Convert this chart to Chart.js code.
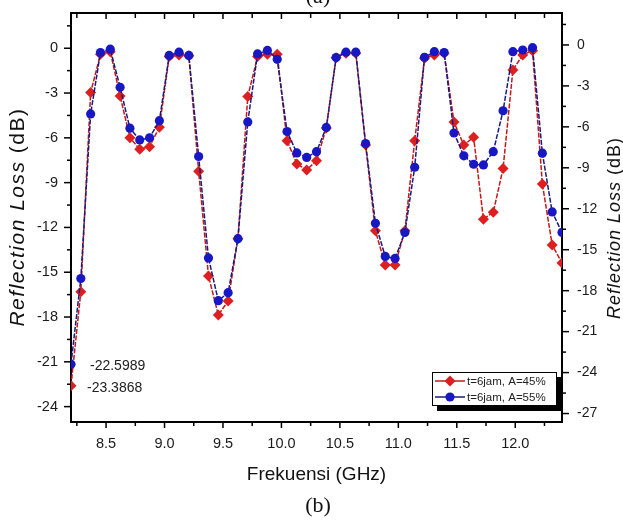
<!DOCTYPE html>
<html>
<head>
<meta charset="utf-8">
<title>Reflection Loss</title>
<script src="https://cdn.jsdelivr.net/npm/chart.js@4.4.0/dist/chart.umd.min.js"></script>
<style>
  html, body { margin: 0; padding: 0; background: #fff; }
  #wrap { position: relative; width: 623px; height: 520px; }
</style>
</head>
<body>
<div id="wrap"><canvas id="rlChart" width="623" height="520"></canvas></div>
<script>
// --- Data ---
const frequencies = [
    8.200, 8.284, 8.368, 8.452, 8.536, 8.620, 8.704, 8.788, 8.872, 8.956,
    9.040, 9.124, 9.208, 9.292, 9.376, 9.460, 9.544, 9.628, 9.712, 9.796,
    9.880, 9.964, 10.048, 10.132, 10.216, 10.300, 10.384, 10.468, 10.552, 10.636,
    10.720, 10.804, 10.888, 10.972, 11.056, 11.140, 11.224, 11.308, 11.392, 11.476,
    11.560, 11.644, 11.728, 11.812, 11.896, 11.980, 12.064, 12.148, 12.232, 12.316,
    12.400
];
// A=45% is read against the left axis
const rlA45 = [
    -22.5989, -16.30, -2.97, -0.40, -0.23, -3.19, -5.99, -6.76, -6.59, -5.29,
    -0.56, -0.45, -0.50, -8.24, -15.25, -17.86, -16.93, -12.75, -3.24, -0.56,
    -0.40, -0.40, -6.19, -7.75, -8.15, -7.53, -5.34, -0.63, -0.33, -0.33,
    -6.48, -12.22, -14.51, -14.51, -12.22, -6.19, -0.67, -0.45, -0.33, -4.94,
    -6.48, -5.96, -11.45, -10.98, -8.06, -1.45, -0.45, -0.16, -9.09, -13.17,
    -14.38
];
// A=55% is read against the right axis
const rlA55 = [
    -23.3868, -17.11, -5.05, -0.56, -0.31, -3.10, -6.10, -6.96, -6.80, -5.55,
    -0.77, -0.53, -0.77, -8.17, -15.60, -18.73, -18.15, -14.19, -5.64, -0.66,
    -0.40, -1.05, -6.34, -7.91, -8.24, -7.82, -6.04, -0.92, -0.53, -0.53,
    -7.22, -13.06, -15.49, -15.64, -13.74, -8.96, -0.90, -0.49, -0.56, -6.45,
    -8.12, -8.74, -8.79, -7.82, -4.82, -0.49, -0.37, -0.20, -7.93, -12.23,
    -13.74
];
const seriesNames = ['t=6jam, A=45%', 't=6jam, A=55%'];
const xTicks = [8.5, 9.0, 9.5, 10.0, 10.5, 11.0, 11.5, 12.0];
const leftTicks = [0, -3, -6, -9, -12, -15, -18, -21, -24];
const rightTicks = [0, -3, -6, -9, -12, -15, -18, -21, -24, -27];
const pointNotes = ['-22.5989', '-23.3868'];

document.addEventListener('DOMContentLoaded', () => {
    const ctx = document.getElementById('rlChart').getContext('2d');
    const SANS = "'Liberation Sans', Arial, sans-serif";
    const SERIF = "'Liberation Serif', 'Times New Roman', serif";

    const toPoints = (ys) => frequencies.map((f, i) => ({ x: f, y: ys[i] }));
    const fixedTicks = (values) => (scale) => {
        scale.ticks = values.map(v => ({ value: v }));
    };
    // keep the plot box where the reference has it: no extra label padding
    const fixSize = (prop, size) => (scale) => {
        scale[prop] = size;
        scale.paddingTop = 0;
        scale.paddingBottom = 0;
        scale.paddingLeft = 0;
        scale.paddingRight = 0;
    };

    // --- Extra drawing: minor ticks, titles, legend box, notes ---
    function drawAxisTicks(c, scale, step, majorLen, minorLen, side) {
        const area = scale.chart.chartArea;
        c.save();
        c.strokeStyle = '#000';
        c.lineWidth = 1.5;
        const first = Math.ceil(scale.min / step) * step;
        for (let v = first; v <= scale.max + 1e-9; v += step) {
            const k = Math.round(v / step);
            const len = k % 2 === 0 ? majorLen : minorLen;
            const p = scale.getPixelForValue(v);
            c.beginPath();
            if (side === 'bottom') { c.moveTo(p, area.bottom); c.lineTo(p, area.bottom + len); }
            if (side === 'top') { c.moveTo(p, area.top); c.lineTo(p, area.top + len); }
            if (side === 'left') { c.moveTo(area.left, p); c.lineTo(area.left - len, p); }
            if (side === 'right') { c.moveTo(area.right, p); c.lineTo(area.right + len, p); }
            c.stroke();
        }
        c.restore();
    }

    function drawVerticalTitle(c, x, y, size, spacing) {
        c.save();
        c.translate(x, y);
        c.rotate(-Math.PI / 2);
        c.fillStyle = '#111';
        c.textBaseline = 'middle';
        c.textAlign = 'left';
        c.letterSpacing = spacing + 'px';
        const part1 = 'Reflection Loss';
        const part2 = ' (dB)';
        c.font = `italic ${size}px ${SANS}`;
        const w1 = c.measureText(part1).width;
        c.font = `${size}px ${SANS}`;
        const w2 = c.measureText(part2).width;
        const start = -(w1 + w2) / 2;
        c.font = `italic ${size}px ${SANS}`;
        c.fillText(part1, start, 0);
        c.font = `${size}px ${SANS}`;
        c.fillText(part2, start + w1, 0);
        c.restore();
    }

    function drawMarker(c, style, x, y, r, color) {
        c.fillStyle = color;
        c.beginPath();
        if (style === 'rectRot') {
            c.moveTo(x, y - r); c.lineTo(x + r, y); c.lineTo(x, y + r); c.lineTo(x - r, y);
            c.closePath();
        } else {
            c.arc(x, y, r, 0, Math.PI * 2);
        }
        c.fill();
    }

    const decorPlugin = {
        id: 'decor',
        afterDraw(chart) {
            const c = chart.ctx;
            const area = chart.chartArea;
            const { x, xTop, y, y2 } = chart.scales;

            drawAxisTicks(c, x, 0.25, 6, 4, 'bottom');
            drawAxisTicks(c, xTop, 0.25, 6, 5, 'top');
            drawAxisTicks(c, y, 1.5, 7, 4, 'left');
            drawAxisTicks(c, y2, 1.5, 7, 4, 'right');

            // axis titles
            drawVerticalTitle(c, 18, 217, 21, 1.5);
            drawVerticalTitle(c, 615, 228, 18, 1);
            c.save();
            c.fillStyle = '#111';
            c.textAlign = 'center';
            c.textBaseline = 'middle';
            c.font = `19px ${SANS}`;
            c.fillText('Frekuensi (GHz)', 316.5, 475);

            // panel captions
            c.font = `22px ${SERIF}`;
            c.textBaseline = 'alphabetic';
            c.fillText('(a)', 318, 3);
            c.fillText('(b)', 318, 512);

            // notes beside the first points
            const redFirst = chart.getDatasetMeta(0).data[0];
            const blueFirst = chart.getDatasetMeta(1).data[0];
            c.textAlign = 'left';
            c.textBaseline = 'middle';
            c.font = `14px ${SANS}`;
            c.fillStyle = '#222';
            c.fillText(pointNotes[0], blueFirst.x + 19, blueFirst.y + 2);
            c.fillText(pointNotes[1], redFirst.x + 16, redFirst.y + 2);
            c.restore();

            // legend box with drop shadow
            const box = { left: area.right - 130, top: area.bottom - 50, w: 125, h: 34 };
            c.save();
            c.fillStyle = '#000';
            c.fillRect(box.left + 5, box.top + 5, box.w, box.h);
            c.fillStyle = '#fff';
            c.fillRect(box.left, box.top, box.w, box.h);
            c.strokeStyle = '#000';
            c.lineWidth = 1;
            c.strokeRect(box.left + 0.5, box.top + 0.5, box.w - 1, box.h - 1);
            chart.data.datasets.forEach((ds, i) => {
                const ly = box.top + 9 + i * 16;
                c.strokeStyle = ds.borderColor;
                c.lineWidth = 1.5;
                c.beginPath();
                c.moveTo(box.left + 3, ly);
                c.lineTo(box.left + 33, ly);
                c.stroke();
                drawMarker(c, ds.pointStyle, box.left + 18, ly, ds.pointRadius, ds.pointBackgroundColor);
                c.fillStyle = '#222';
                c.font = `11.5px ${SANS}`;
                c.textAlign = 'left';
                c.textBaseline = 'middle';
                c.fillText(ds.label, box.left + 35, ly + 1);
            });
            c.restore();
        }
    };

    // --- Chart ---
    const tickFont = (size) => ({ family: SANS, size: size });
    const noGrid = { display: false, drawTicks: false };
    const frame = { display: true, color: '#000', width: 2 };

    new Chart(ctx, {
        type: 'line',
        data: {
            datasets: [
                {
                    label: seriesNames[0],
                    data: toPoints(rlA45),
                    xAxisID: 'x',
                    yAxisID: 'y',
                    borderColor: '#c41818',
                    borderWidth: 1.5,
                    borderDash: [5, 1.5],
                    pointStyle: 'rectRot',
                    pointRadius: 5.5,
                    pointBackgroundColor: '#dc1f1f',
                    pointBorderColor: '#dc1f1f',
                    pointBorderWidth: 0,
                    tension: 0,
                    order: 2
                },
                {
                    label: seriesNames[1],
                    data: toPoints(rlA55),
                    xAxisID: 'x',
                    yAxisID: 'y2',
                    borderColor: '#1a1a7e',
                    borderWidth: 1.5,
                    borderDash: [5, 1.5],
                    pointStyle: 'circle',
                    pointRadius: 4.6,
                    pointBackgroundColor: '#1717c4',
                    pointBorderColor: '#1717c4',
                    pointBorderWidth: 0,
                    tension: 0,
                    order: 1
                }
            ]
        },
        options: {
            responsive: false,
            animation: false,
            devicePixelRatio: 1,
            layout: { padding: 0 },
            plugins: {
                legend: { display: false },
                tooltip: { enabled: false }
            },
            scales: {
                x: {
                    type: 'linear',
                    position: 'bottom',
                    min: 8.2,
                    max: 12.4,
                    afterBuildTicks: fixedTicks(xTicks),
                    afterFit: fixSize('height', 98),
                    grid: noGrid,
                    border: frame,
                    ticks: {
                        autoSkip: false,
                        maxRotation: 0,
                        padding: 13,
                        color: '#1a1a1a',
                        font: tickFont(14.5),
                        callback: (v) => Number(v).toFixed(1)
                    }
                },
                xTop: {
                    type: 'linear',
                    position: 'top',
                    min: 8.2,
                    max: 12.4,
                    afterFit: fixSize('height', 13),
                    grid: noGrid,
                    border: frame,
                    ticks: { display: false }
                },
                y: {
                    type: 'linear',
                    position: 'left',
                    min: -25.03,
                    max: 2.36,
                    afterBuildTicks: fixedTicks(leftTicks),
                    afterFit: fixSize('width', 71),
                    grid: noGrid,
                    border: frame,
                    ticks: {
                        autoSkip: false,
                        padding: 13,
                        color: '#1a1a1a',
                        font: tickFont(14.5),
                        callback: (v) => String(v)
                    }
                },
                y2: {
                    type: 'linear',
                    position: 'right',
                    min: -27.62,
                    max: 2.34,
                    afterBuildTicks: fixedTicks(rightTicks),
                    afterFit: fixSize('width', 61),
                    grid: noGrid,
                    border: frame,
                    ticks: {
                        autoSkip: false,
                        padding: 15,
                        color: '#1a1a1a',
                        font: tickFont(14),
                        callback: (v) => String(v)
                    }
                }
            }
        },
        plugins: [decorPlugin]
    });
});
</script>
</body>
</html>
